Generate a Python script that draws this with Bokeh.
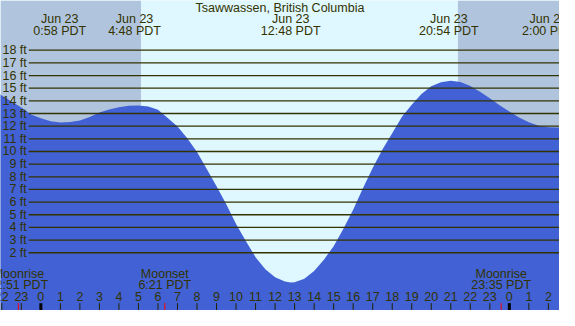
from bokeh.plotting import figure
from bokeh.models import Range1d
from bokeh.core.properties import value
from bokeh.embed import file_html
from bokeh.resources import INLINE

# ---------------- data ----------------
title = "Tsawwassen, British Columbia"

# tide curve, hours relative to Jun 23 00:00 PDT, height in feet
hours = [-2.1, -2.0, -1.5, -1.0, -0.5, 0.0, 0.5, 1.0, 1.5, 2.0, 2.5, 3.0, 3.5,
         4.0, 4.5, 5.0, 5.5, 6.0, 6.5, 7.0, 7.5, 8.0, 8.5, 9.0, 9.5, 10.0,
         10.5, 11.0, 11.5, 12.0, 12.5, 12.8, 13.0, 13.5, 14.0, 14.5, 15.0,
         15.5, 16.0, 16.5, 17.0, 17.5, 18.0, 18.5, 19.0, 19.5, 20.0, 20.5,
         21.0, 21.5, 22.0, 22.5, 23.0, 23.5, 24.0, 24.5, 25.0, 25.5, 26.0,
         26.5, 26.6]
tide_ft = [14.52, 14.42, 13.95, 13.48, 12.92, 12.62, 12.38, 12.28, 12.32,
           12.45, 12.72, 13.07, 13.32, 13.50, 13.62, 13.64, 13.56, 13.30,
           12.65, 11.98, 11.05, 9.95, 8.62, 7.25, 5.83, 4.28, 2.92, 1.65,
           0.70, 0.07, -0.27, -0.35, -0.33, -0.05, 0.55, 1.45, 2.52, 3.90,
           5.40, 7.10, 8.70, 10.15, 11.45, 12.75, 13.70, 14.55, 15.15, 15.47,
           15.59, 15.49, 15.18, 14.72, 14.20, 13.66, 13.15, 12.68, 12.30,
           12.03, 11.92, 11.90, 11.90]

extreme_hours = [0.967, 4.8, 12.8, 20.9, 26.0]
extreme_dates = ["Jun 23", "Jun 23", "Jun 23", "Jun 23", "Jun 24"]
extreme_times = ["0:58 PDT", "4:48 PDT", "12:48 PDT", "20:54 PDT", "2:00 PDT"]

sunrise = 5.133
sunset = 21.367

moon_hours = [-1.15, 6.35, 23.583]
moon_events = ["Moonrise", "Moonset", "Moonrise"]
moon_times = ["22:51 PDT", "6:21 PDT", "23:35 PDT"]

grid_ft = list(range(2, 19))
tick_hours = list(range(-2, 27))

# ---------------- styling ----------------
X0, X1 = -2.067, 26.57
Y0, Y1 = -2.562, 21.927
NIGHT = "#b0c4de"
DAY = "#dff7ff"
WATER = "#4161d4"
INK = "#333300"
FONT = value("Liberation Sans")
FS = "12.5px"

p = figure(width=559, height=310, output_backend="svg", toolbar_location=None,
           x_range=Range1d(X0, X1), y_range=Range1d(Y0, Y1), min_border=0)
p.axis.visible = False
p.grid.visible = False
p.outline_line_color = None
p.background_fill_color = DAY
p.border_fill_color = DAY

# day / night background
p.quad(left=[X0, sunrise, sunset], right=[sunrise, sunset, X1],
       bottom=Y0, top=Y1, color=[NIGHT, DAY, NIGHT], line_color=None)

# water
p.varea(x=hours, y1=Y0, y2=tide_ft, color=WATER)

# gridlines and labels
p.segment(x0=-0.62, y0=grid_ft, x1=X1, y1=grid_ft, line_color=INK, line_width=1.3)
p.text(x=-0.72, y=grid_ft, text=[f"{v} ft" for v in grid_ft], text_align="right",
       text_baseline="middle", text_color=INK, text_font=FONT, text_font_size=FS)

# hour ticks
normal = [h for h in tick_hours if h % 24 != 0]
midnight = [h for h in tick_hours if h % 24 == 0]
p.segment(x0=normal, y0=-1.98, x1=normal, y1=Y0, line_color="#222200", line_width=1)
p.segment(x0=midnight, y0=-1.98, x1=midnight, y1=Y0, line_color="#000000", line_width=3)
p.segment(x0=moon_hours, y0=-1.98, x1=moon_hours, y1=Y0, line_color="#ff0000", line_width=1)
p.text(x=tick_hours, y=-1.49, text=[str(h % 24) for h in tick_hours],
       text_align="center", text_baseline="middle", text_color=INK,
       text_font=FONT, text_font_size=FS)

# moon events
p.text(x=moon_hours, y=0.35, text=moon_events, text_align="center",
       text_baseline="middle", text_color=INK, text_font=FONT, text_font_size=FS)
p.text(x=moon_hours, y=-0.56, text=moon_times, text_align="center",
       text_baseline="middle", text_color=INK, text_font=FONT, text_font_size=FS)

# tide extremes labels
p.text(x=extreme_hours, y=20.45, text=extreme_dates, text_align="center",
       text_baseline="middle", text_color=INK, text_font=FONT, text_font_size=FS)
p.text(x=extreme_hours, y=19.52, text=extreme_times, text_align="center",
       text_baseline="middle", text_color=INK, text_font=FONT, text_font_size=FS)

# title
p.text(x=[(X0 + X1) / 2], y=[21.36], text=[title], text_align="center",
       text_baseline="middle", text_color=INK, text_font=FONT, text_font_size=FS)

open("out.html", "w").write(file_html(p, INLINE))
